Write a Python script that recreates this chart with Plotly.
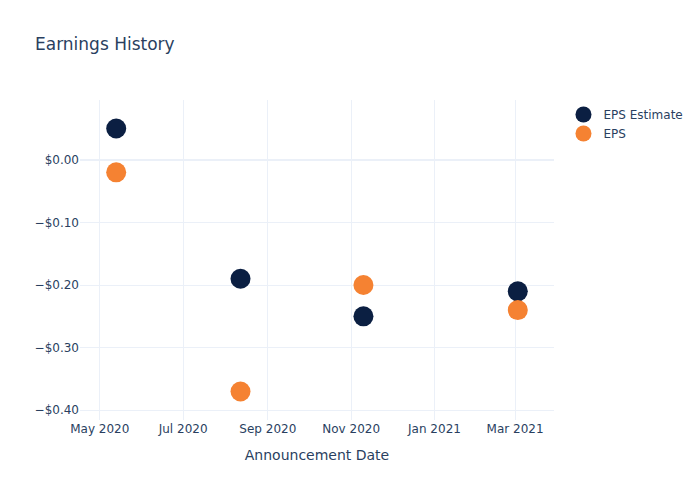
import plotly.graph_objects as go

dates = ["2020-05-13", "2020-08-12", "2020-11-10", "2021-03-03"]
eps_estimate = [0.05, -0.19, -0.25, -0.21]
eps_actual = [-0.02, -0.37, -0.20, -0.24]

fig = go.Figure()
fig.add_trace(go.Scatter(x=dates, y=eps_estimate, mode="markers", name="EPS Estimate",
                         marker=dict(color="#0B1F42", size=20)))
fig.add_trace(go.Scatter(x=dates, y=eps_actual, mode="markers", name="EPS",
                         marker=dict(color="#F58232", size=20)))
fig.update_layout(
    template="plotly_white",
    width=700, height=500,
    font=dict(family="DejaVu Sans"),
    title=dict(text="Earnings History"),
    xaxis=dict(title=dict(text="Announcement Date")),
    yaxis=dict(tickformat="$.2f"),
)
fig.write_html("out.html")
